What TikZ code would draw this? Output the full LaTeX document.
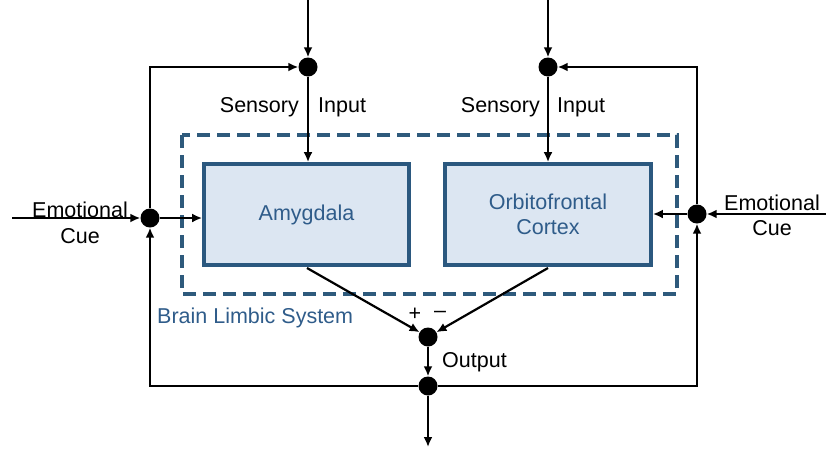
\documentclass[tikz,border=0pt]{standalone}
\usepackage{fontspec}
\setmainfont{Liberation Sans}
\usetikzlibrary{arrows.meta}
\definecolor{boxline}{HTML}{2B587F}
\definecolor{boxfill}{HTML}{DCE6F2}
\definecolor{boxtext}{HTML}{2F5C8A}
\definecolor{dashline}{HTML}{2E5A7C}
\begin{document}
\begin{tikzpicture}[x=1pt,y=-1pt,
  every node/.style={font=\fontsize{21.5}{25}\selectfont},
  dot/.style={circle,fill=black,inner sep=0pt,minimum size=19pt},
  conn/.style={line width=2.2pt,-{Latex[length=10pt,width=9pt]}},
  blk/.style={draw=boxline,fill=boxfill,line width=3.8pt,text=boxtext,align=center,
    minimum height=101pt,inner sep=0pt},
  lbl/.style={inner sep=0pt,text=black}]
\useasboundingbox (0,0) rectangle (826,448);
% dashed limbic system box
\draw[dashline,line width=3.8pt,dash pattern=on 13pt off 7pt] (182,135) rectangle (677,294);
\node[lbl,text=boxtext,anchor=west] (bls) at (157,318) {Brain Limbic System};
% blocks
\node[blk,minimum width=205pt] (amy) at (306.5,214.5) {Amygdala};
\node[blk,minimum width=206pt] (ofc) at (548,214.5) {Orbitofrontal\\Cortex};
% dots
\node[dot] (s1) at (308,67) {};
\node[dot] (s2) at (548,67) {};
\node[dot] (e1) at (150,218) {};
\node[dot] (e2) at (697,214) {};
\node[dot] (sum) at (428,337) {};
\node[dot] (out) at (428,386) {};
% free ends
\coordinate (t1) at (308,0);
\coordinate (t2) at (548,0);
\coordinate (lin) at (12,218);
\coordinate (rin) at (826,214);
\coordinate (bend) at (428,447);
\coordinate (ab) at (307,268);
\coordinate (ob) at (548,268);
% connectors
\draw[conn] (t1) -- (s1);
\draw[conn] (t2) -- (s2);
\draw[conn] (s1) -- (amy.north -| s1);
\draw[conn] (s2) -- (ofc.north -| s2);
\draw[conn] (lin) -- (e1);
\draw[conn] (rin) -- (e2);
\draw[conn] (e1) -- (amy.west |- e1);
\draw[conn] (e2) -- (ofc.east |- e2);
\draw[conn] (e1) |- (s1);
\draw[conn] (e2) |- (s2);
\draw[conn] (ab) -- (sum);
\draw[conn] (ob) -- (sum);
\draw[conn] (sum) -- (out);
\draw[conn] (out) -- (bend);
\draw[conn] (out) -| (e1);
\draw[conn] (out) -| (e2);
% labels
\node[lbl,anchor=east] (si1) at (299,107) {Sensory};
\node[lbl,anchor=west] (ip1) at (318,107) {Input};
\node[lbl,anchor=east] (si2) at (540,107) {Sensory};
\node[lbl,anchor=west] (ip2) at (557,107) {Input};
\node[lbl] (em1) at (80,210) {Emotional};
\node[lbl] (cu1) at (80,236) {Cue};
\node[lbl] (em2) at (772,203) {Emotional};
\node[lbl] (cu2) at (772,228) {Cue};
\node[lbl] (plus) at (415,314) {+};
\node[lbl] (minus) at (440,314) {\textendash};
\node[lbl,anchor=west] (outl) at (442,362) {Output};
\end{tikzpicture}
\end{document}
